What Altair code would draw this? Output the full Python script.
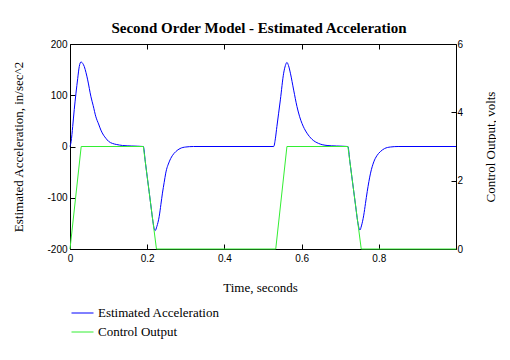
import altair as alt
import pandas as pd

# ---- data ----
t_acc = [0, 0.003, 0.007, 0.011, 0.0155, 0.02, 0.024, 0.0285, 0.033, 0.037, 0.0415, 0.0458,
         0.0543, 0.06, 0.067, 0.074, 0.08, 0.087, 0.093, 0.10, 0.11, 0.12, 0.136, 0.16, 0.19,
         0.195, 0.2, 0.205, 0.21, 0.215, 0.218, 0.2207, 0.225, 0.231, 0.2355, 0.2395, 0.244,
         0.248, 0.257, 0.265, 0.274, 0.285, 0.3, 0.32, 0.5277,
         0.532, 0.536, 0.545, 0.5535, 0.558, 0.562, 0.566, 0.571, 0.5795, 0.588, 0.595, 0.601,
         0.607, 0.614, 0.627, 0.644, 0.666, 0.69, 0.72,
         0.725, 0.73, 0.735, 0.74, 0.745, 0.749, 0.751, 0.755, 0.761, 0.7655, 0.77, 0.7786,
         0.787, 0.795, 0.804, 0.815, 0.83, 0.85, 1.0]
acc = [0, 10, 39, 72, 104, 133, 156, 165, 162, 156, 144, 130,
       97, 80, 58, 44, 32, 22, 16, 10, 6, 4, 2, 1, 0,
       -29, -59, -88, -118, -147, -160, -164, -156, -137, -113, -91, -70,
       -52, -30, -18, -10, -4, -1, 0, 0,
       15, 39, 91, 143, 158, 164, 158, 143, 110, 78, 58, 45,
       35, 26, 14, 6, 2, 1, 0,
       -29, -58, -87, -116, -145, -160, -163, -155, -134, -111, -88, -52,
       -30, -18, -10, -4, -1, 0, 0]

t_ctl = [0, 0.029, 0.19, 0.224, 0.533, 0.562, 0.72, 0.7545, 1.0]
ctl = [0, 3, 3, 0, 0, 3, 3, 0, 0]

series_names = ["Estimated Acceleration", "Control Output"]
series_colors = ["#0000ff", "#33ee33"]
x_ticks = [0, 0.2, 0.4, 0.6, 0.8]
left_ticks = [-200, -100, 0, 100, 200]
right_ticks = [0, 2, 4, 6]

df_acc = pd.DataFrame({"t": t_acc, "acc": acc, "series": series_names[0]})
df_ctl = pd.DataFrame({"t": t_ctl, "ctl": ctl, "series": series_names[1]})

serif = "Liberation Serif"
sans = "Liberation Sans"

color_scale = alt.Scale(domain=series_names, range=series_colors)
x_scale = alt.Scale(domain=[0, 1], nice=False, zero=False)

common_axis = dict(offset=-5, tickSize=5, domain=False, tickColor="black",
                   labelFont=sans, labelFontSize=10, labelColor="black",
                   titleFont=serif, titleFontSize=13, titleFontWeight="normal",
                   titleColor="black", grid=False)

neg_expr = "datum.value < 0 ? '-' + abs(datum.value) : '' + datum.value"

acc_line = alt.Chart(df_acc).mark_line(strokeWidth=1, interpolate="monotone").encode(
    x=alt.X("t:Q", scale=x_scale,
            axis=alt.Axis(title="Time, seconds", orient="bottom", values=x_ticks,
                          labelExpr=neg_expr, labelFlush=False, labelPadding=4,
                          titleX=190, titleY=43, titleBaseline="middle", titleAlign="center",
                          **common_axis)),
    y=alt.Y("acc:Q", scale=alt.Scale(domain=[-200, 200], nice=False),
            axis=alt.Axis(title="Estimated Acceleration, in/sec^2", orient="left",
                          values=left_ticks, labelExpr=neg_expr, labelPadding=3,
                          titleX=-57, titleY=102.5, titleAngle=270,
                          titleBaseline="middle", titleAlign="center", **common_axis)),
    color=alt.Color("series:N", scale=color_scale, legend=alt.Legend(title=None)),
)

ctl_line = alt.Chart(df_ctl).mark_line(strokeWidth=1).encode(
    x=alt.X("t:Q", scale=x_scale,
            axis=alt.Axis(title=None, orient="top", values=x_ticks, labels=False,
                          **common_axis)),
    y=alt.Y("ctl:Q", scale=alt.Scale(domain=[0, 6], nice=False),
            axis=alt.Axis(title="Control Output, volts", orient="right", values=right_ticks,
                          labelExpr=neg_expr, labelPadding=1,
                          titleX=39, titleY=102.5, titleAngle=270,
                          titleBaseline="middle", titleAlign="center", **common_axis)),
    color=alt.Color("series:N", scale=color_scale, legend=alt.Legend(title=None)),
)

chart = alt.layer(acc_line, ctl_line).resolve_scale(y="independent").resolve_axis(
    y="independent", x="independent"
).properties(
    width=386,
    height=205,
    autosize=alt.AutoSizeParams(type="none"),
    padding={"left": 62, "top": 36, "right": 40, "bottom": 100},
    title=alt.TitleParams("Second Order Model - Estimated Acceleration", font=serif,
                          fontSize=15, fontWeight="bold", color="black",
                          anchor="middle", offset=3, dx=-4),
).configure_view(stroke="black", strokeWidth=1).configure_legend(
    orient="none", legendX=1, legendY=257.5, symbolType="stroke", symbolSize=484,
    symbolStrokeWidth=1, labelFont=serif, labelFontSize=13, labelColor="black",
    labelOffset=4, rowPadding=-1, padding=0,
)

chart.save("out.html", embed_options={"renderer": "svg", "actions": False})
